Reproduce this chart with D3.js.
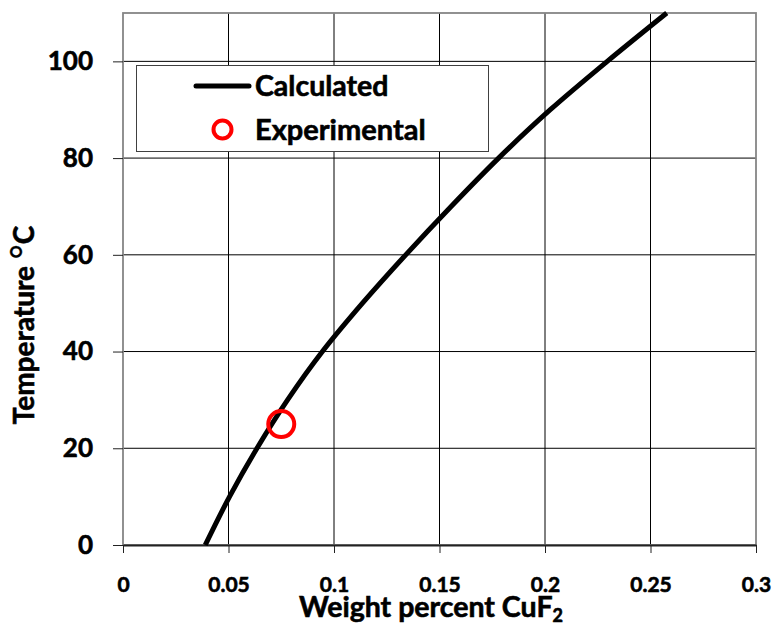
<!DOCTYPE html>
<html>
<head>
<meta charset="utf-8">
<script src="https://cdn.jsdelivr.net/npm/d3@7"></script>
<style>
  body { margin: 0; background: #fff; }
  text { font-family: Lato, "Open Sans", sans-serif; font-weight: bold; fill: #000; stroke: #000; stroke-width: 0.6px; }
</style>
</head>
<body>
<div id="chart"></div>
<script>
// calculated solubility curve (wt% CuF2 vs temperature)
var calcTemp = [0, 10, 20, 30, 40, 50, 60, 70, 80, 90, 100, 110];
var calcWeight = [0.039, 0.0505, 0.0635, 0.078, 0.0945, 0.1135, 0.134, 0.1555, 0.178, 0.2025, 0.2295, 0.2577];

// experimental point
var expWeight = [0.075];
var expTemp = [25];

var xTicks = [0, 0.05, 0.1, 0.15, 0.2, 0.25, 0.3];
var yTicks = [0, 20, 40, 60, 80, 100];

var svgWidth = 775;
var svgHeight = 624;

var margin = { top: 13, right: 19, bottom: 79, left: 123 };
var width = svgWidth - margin.left - margin.right;
var height = svgHeight - margin.top - margin.bottom;

var svg = d3.select("#chart")
  .append("svg")
  .attr("width", svgWidth)
  .attr("height", svgHeight);

var chartGroup = svg.append("g")
  .attr("transform", `translate(${margin.left}, ${margin.top})`);

var x = d3.scaleLinear().domain([0, 0.3]).range([0, width]);
var y = d3.scaleLinear().domain([0, 110]).range([height, 0]);

// grid
chartGroup.append("g")
  .selectAll("line")
  .data(xTicks.slice(1, -1))
  .enter()
  .append("line")
  .attr("x1", d => x(d)).attr("x2", d => x(d))
  .attr("y1", 0).attr("y2", height)
  .attr("stroke", "#000")
  .attr("stroke-width", 1);

chartGroup.append("g")
  .selectAll("line")
  .data(yTicks.slice(1))
  .enter()
  .append("line")
  .attr("x1", 0).attr("x2", width)
  .attr("y1", d => y(d)).attr("y2", d => y(d))
  .attr("stroke", "#000")
  .attr("stroke-width", 1);

// plot border
chartGroup.append("rect")
  .attr("x", 0).attr("y", 0)
  .attr("width", width).attr("height", height)
  .attr("fill", "none")
  .attr("stroke", "#858585")
  .attr("stroke-width", 1.8);

// axes
var bottomAxis = d3.axisBottom(x)
  .tickValues(xTicks)
  .tickFormat(d => d3.format("~g")(d))
  .tickSizeInner(8)
  .tickSizeOuter(0)
  .tickPadding(24);

var leftAxis = d3.axisLeft(y)
  .tickValues(yTicks)
  .tickSizeInner(10)
  .tickSizeOuter(0)
  .tickPadding(20);

var xAxis = chartGroup.append("g")
  .attr("transform", `translate(0, ${height})`)
  .call(bottomAxis);
xAxis.select(".domain").attr("stroke", "#222").attr("stroke-width", 1.8);
xAxis.selectAll(".tick line").attr("stroke", "#222");
xAxis.selectAll("text")
  .style("font-family", "Lato, sans-serif")
  .style("font-weight", "bold")
  .style("font-size", "21px");

var yAxis = chartGroup.append("g")
  .call(leftAxis);
yAxis.select(".domain").remove();
yAxis.selectAll(".tick line").attr("stroke", "#222");
yAxis.selectAll("text")
  .style("font-family", "Lato, sans-serif")
  .style("font-weight", "bold")
  .style("font-size", "26px");

// calculated curve
var line = d3.line()
  .x(d => x(d[0]))
  .y(d => y(d[1]))
  .curve(d3.curveMonotoneY);

var calcData = calcTemp.map((t, i) => [calcWeight[i], t]);

chartGroup.append("path")
  .datum(calcData)
  .attr("d", line)
  .attr("fill", "none")
  .attr("stroke", "#000")
  .attr("stroke-width", 5);

// experimental point
chartGroup.selectAll(".expPoint")
  .data(expWeight.map((w, i) => [w, expTemp[i]]))
  .enter()
  .append("circle")
  .attr("class", "expPoint")
  .attr("cx", d => x(d[0]))
  .attr("cy", d => y(d[1]))
  .attr("r", 13)
  .attr("fill", "none")
  .attr("stroke", "#ff0000")
  .attr("stroke-width", 4);

// legend
var legend = svg.append("g");
legend.append("rect")
  .attr("x", 136.5).attr("y", 65.5)
  .attr("width", 352).attr("height", 86)
  .attr("fill", "#fff")
  .attr("stroke", "#404040")
  .attr("stroke-width", 1);
legend.append("line")
  .attr("x1", 196).attr("x2", 249)
  .attr("y1", 86).attr("y2", 86)
  .attr("stroke", "#000")
  .attr("stroke-width", 5)
  .attr("stroke-linecap", "round");
legend.append("text")
  .attr("x", 255).attr("y", 86)
  .attr("dy", "0.35em")
  .style("font-size", "28.5px")
  .text("Calculated");
legend.append("circle")
  .attr("cx", 222.5).attr("cy", 129.5)
  .attr("r", 9)
  .attr("fill", "none")
  .attr("stroke", "#ff0000")
  .attr("stroke-width", 4);
legend.append("text")
  .attr("x", 255).attr("y", 129.5)
  .attr("dy", "0.35em")
  .style("font-size", "29px")
  .text("Experimental");

// axis titles
var xTitle = svg.append("text")
  .attr("x", 431)
  .attr("y", 617)
  .attr("text-anchor", "middle")
  .style("font-size", "28.5px");
xTitle.append("tspan").text("Weight percent CuF");
xTitle.append("tspan")
  .attr("dy", 5)
  .style("font-size", "18px")
  .text("2");

var yTitle = svg.append("text")
  .attr("transform", "translate(24, 325) rotate(-90)")
  .attr("text-anchor", "middle")
  .attr("dy", "0.35em")
  .style("font-size", "28px");
yTitle.append("tspan").text("Temperature ");
yTitle.append("tspan")
  .style("font-weight", "normal")
  .style("stroke-width", "0.3px")
  .style("font-size", "36px")
  .attr("dy", 3)
  .text("\u00B0");
yTitle.append("tspan")
  .attr("dy", -3)
  .text("C");
</script>
</body>
</html>
